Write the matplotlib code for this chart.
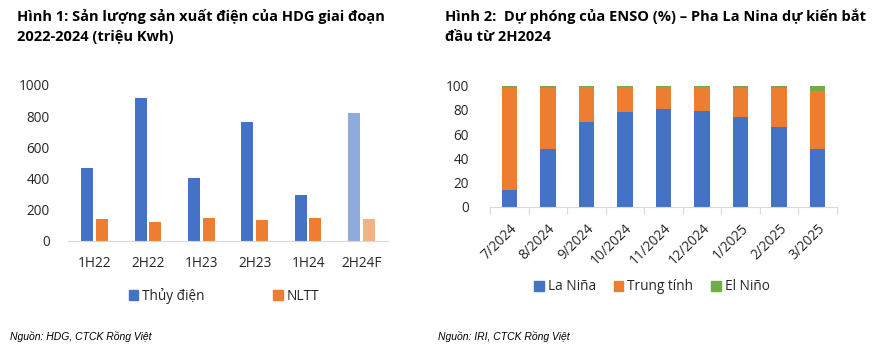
import matplotlib
matplotlib.use("Agg")
import matplotlib.pyplot as plt
import numpy as np
from matplotlib.patches import Patch

plt.rcParams['font.family'] = ['Open Sans', 'DejaVu Sans']

# Chart 1 data
periods = ["1H22", "2H22", "1H23", "2H23", "1H24", "2H24F"]
thuy_dien = [468, 917, 404, 763, 295, 821]
nltt = [141, 122, 149, 135, 149, 141]

# Chart 2 data
months = ["7/2024", "8/2024", "9/2024", "10/2024", "11/2024", "12/2024", "1/2025", "2/2025", "3/2025"]
la_nina = [14, 48, 70, 78, 81, 79, 74, 66, 48]
trung_tinh = [84, 50, 29, 21, 18, 20, 24, 32, 48]
el_nino = [2, 2, 1, 1, 1, 1, 2, 2, 4]

BLUE = "#4472C4"
ORANGE = "#ED7D31"
GREEN = "#70AD47"
BLUE_L = "#8FAADC"
ORANGE_L = "#F4B183"
AXC = "#D9D9D9"
TXT = "#262626"

W, H = 872, 351
fig = plt.figure(figsize=(W / 100, H / 100), dpi=100)

def fx(px):
    return px / W

def fy(py):
    return 1 - py / H

# Titles
tkw = dict(fontsize=10.5, fontweight='bold', color='black', va='center', ha='left')
fig.text(fx(17), fy(16), "Hình 1: Sản lượng sản xuất điện của HDG giai đoạn", **tkw)
fig.text(fx(17), fy(37), "2022-2024 (triệu Kwh)", **tkw)
fig.text(fx(445), fy(16), "Hình 2:  Dự phóng của ENSO (%) – Pha La Nina dự kiến bắt", **tkw)
fig.text(fx(445), fy(37), "đầu từ 2H2024", **tkw)

# Sources
skw = dict(fontsize=7.5, style='italic', color='black', va='center', ha='left',
           family=['Liberation Sans', 'DejaVu Sans'])
fig.text(fx(10), fy(336), "Nguồn: HDG, CTCK Rồng Việt", **skw)
fig.text(fx(438), fy(336), "Nguồn: IRI, CTCK Rồng Việt", **skw)

# ---- Chart 1
ax1 = fig.add_axes([fx(68), fy(241), fx(388) - fx(68), fy(85) - fy(241)])
x = np.arange(len(periods))
bw = 0.225
off = 0.14
c1 = [BLUE] * (len(periods) - 1) + [BLUE_L]
c2 = [ORANGE] * (len(periods) - 1) + [ORANGE_L]
ax1.bar(x - off, thuy_dien, bw, color=c1)
ax1.bar(x + off, nltt, bw, color=c2)
ax1.set_xlim(-0.5, len(periods) - 0.5)
ax1.set_ylim(0, 1000)
ax1.set_yticks([0, 200, 400, 600, 800, 1000])
ax1.set_xticks(x)
ax1.set_xticklabels(periods)
for s in ['top', 'right', 'left']:
    ax1.spines[s].set_visible(False)
ax1.spines['bottom'].set_color(AXC)
ax1.tick_params(axis='both', length=0, labelsize=9.8, colors=TXT)
ax1.tick_params(axis='y', pad=13)
ax1.tick_params(axis='x', pad=11)
ax1.patch.set_alpha(0)
fig.legend(handles=[Patch(color=BLUE, label="Thủy điện"), Patch(color=ORANGE, label="NLTT")],
           loc='center', bbox_to_anchor=(fx(224), fy(296)), ncol=2, frameon=False,
           fontsize=9.8, handlelength=0.7, handleheight=0.7, handletextpad=0.3,
           columnspacing=5.0, labelcolor=TXT)

# ---- Chart 2
ax2 = fig.add_axes([fx(490), fy(207), fx(837) - fx(490), fy(85.7) - fy(207)])
x2 = np.arange(len(months))
bw2 = 0.4
ax2.bar(x2, la_nina, bw2, color=BLUE)
ax2.bar(x2, trung_tinh, bw2, bottom=la_nina, color=ORANGE)
bot = np.array(la_nina) + np.array(trung_tinh)
ax2.bar(x2, el_nino, bw2, bottom=bot, color=GREEN)
ax2.set_xlim(-0.5, len(months) - 0.5)
ax2.set_ylim(0, 100)
ax2.set_yticks([0, 20, 40, 60, 80, 100])
ax2.set_xticks(x2)
ax2.set_xticklabels(months, rotation=45, ha='right', rotation_mode='anchor')
ax2.set_xticks(np.arange(-0.5, len(months), 1.0), minor=True)
for s in ['top', 'right', 'left']:
    ax2.spines[s].set_visible(False)
ax2.spines['bottom'].set_color(AXC)
ax2.tick_params(axis='both', which='major', length=0, labelsize=9.8, colors=TXT)
ax2.tick_params(axis='x', which='minor', length=5, color=AXC, width=0.8)
ax2.tick_params(axis='y', pad=15)
ax2.tick_params(axis='x', which='major', pad=10)
ax2.patch.set_alpha(0)
fig.legend(handles=[Patch(color=BLUE, label="La Niña"), Patch(color=ORANGE, label="Trung tính"),
                    Patch(color=GREEN, label="El Niño")],
           loc='center', bbox_to_anchor=(fx(652), fy(287)), ncol=3, frameon=False,
           fontsize=9.8, handlelength=0.7, handleheight=0.7, handletextpad=0.3,
           columnspacing=1.3, labelcolor=TXT)

fig.savefig("out.png", dpi=100)
